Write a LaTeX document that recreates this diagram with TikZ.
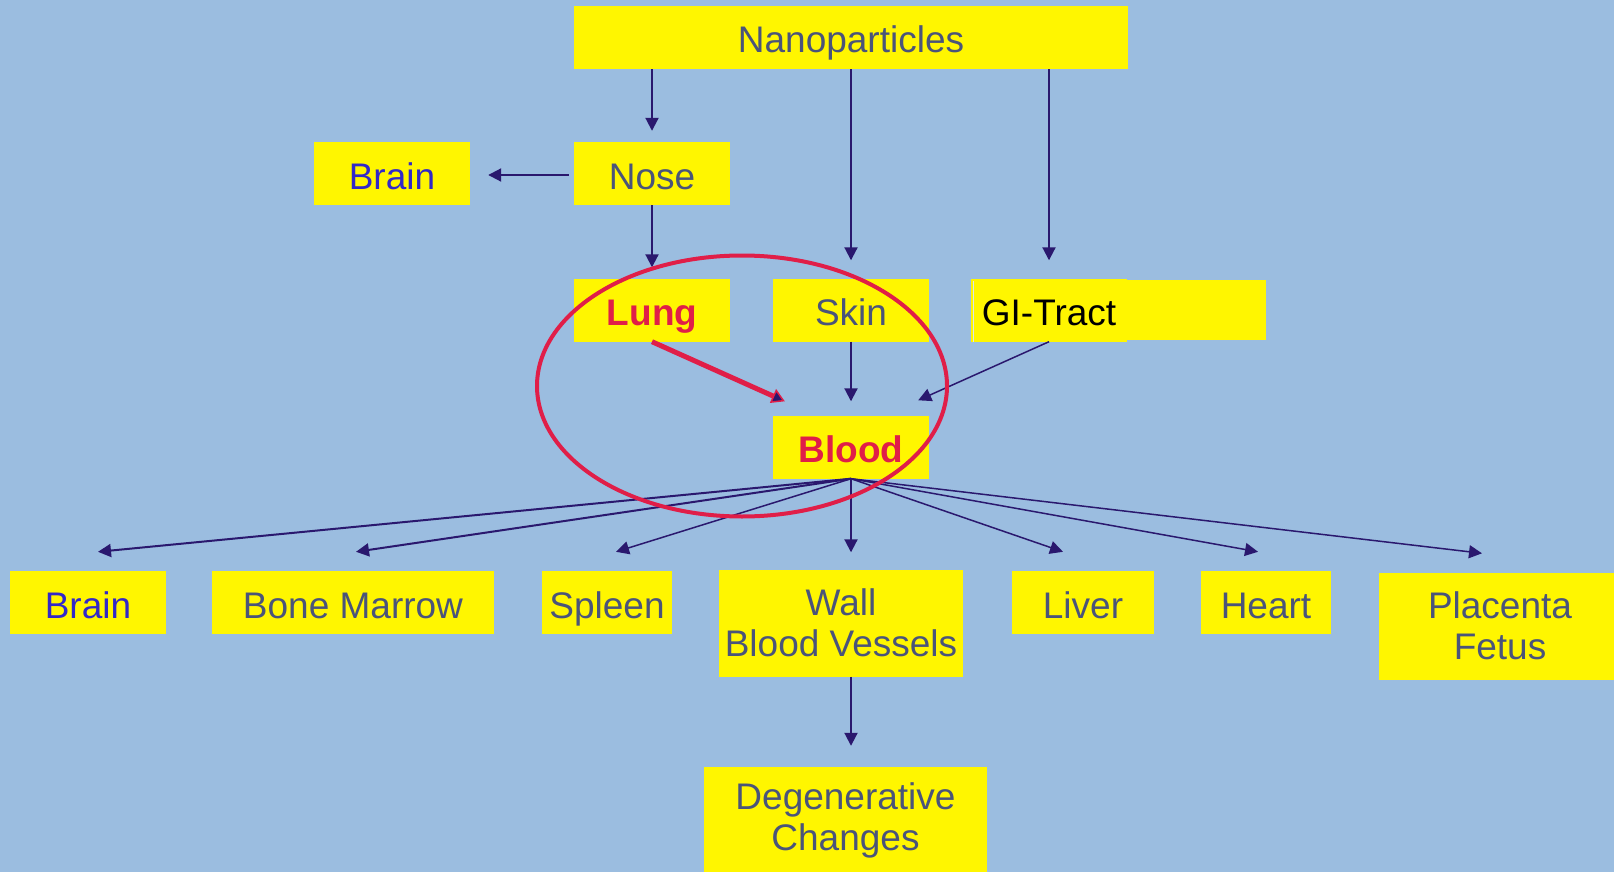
\documentclass[tikz,border=0pt]{standalone}
\usepackage{fontspec}
\setmainfont{Liberation Sans}
\usepackage{xcolor}
\usepackage{tikz}
\usetikzlibrary{arrows.meta,positioning,calc}
\definecolor{skyback}{RGB}{155,189,224}
\definecolor{boxyellow}{RGB}{255,246,0}
\definecolor{slatetext}{RGB}{74,84,122}
\definecolor{brainblue}{RGB}{50,40,200}
\definecolor{arrownavy}{RGB}{42,24,110}
\definecolor{alertred}{RGB}{224,30,72}

\begin{document}
\begin{tikzpicture}[x=1pt,y=-1pt,
    basebox/.style={fill=boxyellow,text=slatetext,inner sep=0pt,
      align=center,font=\fontsize{37}{41}\selectfont},
    organ/.style={basebox,minimum height=63pt,text height=36pt,text depth=5pt},
    tallorgan/.style={basebox,minimum height=107pt},
    flow/.style={draw=arrownavy,line width=2pt,-{Triangle[length=13pt,width=13pt]}}]
    % background and page size
    \fill[skyback] (0,0) rectangle (1614,872);
    \useasboundingbox (0,0) rectangle (1614,872);

    % entry routes
    \node[organ,minimum width=554pt] (nano) at (851,37.5) {Nanoparticles};
    \node[organ,minimum width=156pt,text=brainblue] (brainA) at (392,173.5) {Brain};
    \node[organ,minimum width=156pt] (nose) at (652,173.5) {Nose};
    \node[organ,minimum width=156pt,text=alertred,font=\fontsize{37}{41}\selectfont\bfseries] (lung) at (652,310) {Lung};
    \node[organ,minimum width=156pt] (skin) at (851,310) {Skin};
    \fill[boxyellow] (1049,280) rectangle (1266,340);
    \node[organ,minimum width=156pt,text=black] (gi) at (1049,310) {GI-Tract};
    \draw[skyback!40!white,line width=0.8pt] ([xshift=3pt]gi.south west) -- ([xshift=3pt,yshift=-3pt]gi.north west);
    \node[organ,minimum width=156pt,text=alertred,font=\fontsize{37}{41}\selectfont\bfseries] (blood) at (851,447) {Blood};

    % target organs
    \node[organ,minimum width=156pt,text=brainblue] (brainB) at (88,602.5) {Brain};
    \node[organ,minimum width=282pt] (marrow) at (353,602.5) {Bone Marrow};
    \node[organ,minimum width=130pt] (spleen) at (607,602.5) {Spleen};
    \node[tallorgan,minimum width=244pt] (wall) at (841,623) {Wall\\Blood Vessels};
    \node[organ,minimum width=142pt] (liver) at (1083,602.5) {Liver};
    \node[organ,minimum width=130pt] (heart) at (1266,602.5) {Heart};
    \node[tallorgan,minimum width=242pt] (placenta) at (1500,626) {Placenta\\Fetus};
    \node[tallorgan,minimum width=283pt,minimum height=106pt] (degen) at (845.5,820) {Degenerative\\Changes};

    % uptake
    \draw[flow] (nano.south -| nose) -- ([yshift=11pt]nose.north);
    \draw[flow] (nano.south -| skin) -- ([yshift=18pt]skin.north);
    \draw[flow] (nano.south -| gi) -- ([yshift=18pt]gi.north);
    \draw[flow] ([xshift=-5pt,yshift=-1.5pt]nose.west) -- ([xshift=18pt,yshift=-1.5pt]brainA.east);
    \draw[flow] (nose.south) -- ([yshift=11pt]lung.north);
    \draw[flow] (skin.south) -- ([yshift=14pt]blood.north);
    \draw[flow,line width=1.5pt] (gi.south) -- ([xshift=-11pt,yshift=15pt]blood.north east);

    % distribution
    \draw[flow] (blood.south) -- ([xshift=10pt,yshift=19pt]brainB.north);
    \draw[flow] (blood.south) -- ([xshift=3pt,yshift=19pt]marrow.north);
    \draw[flow,line width=1.5pt] (blood.south) -- ([xshift=9pt,yshift=19pt]spleen.north);
    \draw[flow,shorten >=17pt] (blood.south) -- (blood.south |- wall.north);
    \draw[flow,line width=1.5pt] (blood.south) -- ([xshift=-20pt,yshift=19pt]liver.north);
    \draw[flow,line width=1.5pt] (blood.south) -- ([xshift=-8pt,yshift=19pt]heart.north);
    \draw[flow,line width=1.5pt] (blood.south) -- ([xshift=-18pt,yshift=19pt]placenta.north);
    \draw[flow,shorten >=21pt] (wall.south -| blood.south) -- (blood.south |- degen.north);

    % highlighted route
    \draw[alertred,line width=4pt] (742,386) ellipse [x radius=205pt,y radius=130.5pt];
    \draw[alertred,line width=5pt,-{Triangle[length=13pt,width=15pt,fill=arrownavy,line width=1.5pt]}]
      (lung.south) -- ([xshift=12pt,yshift=14pt]blood.north west);
\end{tikzpicture}
\end{document}
